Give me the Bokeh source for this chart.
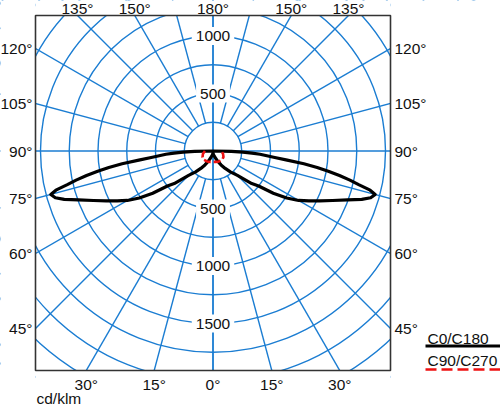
import numpy as np
from bokeh.plotting import figure
from bokeh.models import Range1d
from bokeh.core.properties import value
from bokeh.embed import file_html
from bokeh.resources import INLINE

# ---------------- data (cd/klm) ----------------
gamma = [0, 10, 20, 25, 30, 35, 40, 45, 50, 52.5, 55, 57.5, 60, 62.5, 65, 67.5,
         70, 72, 73.5, 75, 76, 77, 78, 79, 80, 81, 82, 83, 84, 85, 86, 87, 88, 89, 90]
c0_c180 = [20, 35, 70, 100, 140, 185, 240, 300, 440, 500, 640, 760, 860, 940, 1025, 1125,
           1245, 1360, 1430, 1460, 1408, 1300, 1217, 1120, 1018, 917, 798, 650, 540, 470,
           410, 340, 260, 160, 0]

gamma_r = [0, 15, 30, 45, 60, 75, 90]
c90_c270 = [95, 98, 105, 110, 105, 90, 70]

radii = [250, 500, 750, 1000, 1250, 1500, 1750, 2000, 2250, 2500]
radius_labels = [500, 1000, 1500]
spoke_angles = [0, 15, 30, 45, 60, 75, 90, 105, 120, 135, 150, 165, 180]

top_left_ticks = [135, 150, 180]
top_right_ticks = [150, 135]
side_ticks = [120, 105, 90, 75, 60, 45]
bottom_left_ticks = [30, 15, 0]
bottom_right_ticks = [15, 30]

series_names = ["C0/C180", "C90/C270"]
unit_label = "cd/klm"

# ---------------- layout (canvas px) ----------------
W, H = 500, 406
S = 0.115                      # px per cd/klm
CX, CY = 212.5, 150.5          # pole position
BOX_L, BOX_R, BOX_T, BOX_B = 35, 390, 15, 370


def dx(px):
    return (px - CX) / S


def dy(py):
    return (CY - py) / S


XMIN, XMAX = dx(0), dx(W)
YMIN, YMAX = dy(H), dy(0)
BL, BR, BT, BB = dx(BOX_L), dx(BOX_R), dy(BOX_T), dy(BOX_B)

GRID = "#1b7dd2"
FONT = "Liberation Sans"
TXT = "#111111"
FS = "15.5px"

p = figure(width=W, height=H, output_backend="svg", toolbar_location=None,
           title=None, x_range=Range1d(XMIN, XMAX), y_range=Range1d(YMIN, YMAX),
           min_border=0)
p.xaxis.visible = False
p.yaxis.visible = False
p.xgrid.visible = False
p.ygrid.visible = False
p.outline_line_color = None
p.background_fill_color = "white"
p.border_fill_color = "white"

# circles
p.circle(x=[0] * len(radii), y=[0] * len(radii), radius=radii,
         fill_color=None, line_color=GRID, line_width=1.4)

# spokes
xs, ys = [], []
rmax = 3200
for a in spoke_angles:
    r0 = 0 if a in (0, 90, 180) else radii[0]
    for side in (-1, 1):
        t = np.radians(a)
        xs.append([side * r0 * np.sin(t), side * rmax * np.sin(t)])
        ys.append([-r0 * np.cos(t), -rmax * np.cos(t)])
p.multi_line(xs=xs, ys=ys, line_color=GRID, line_width=1.4)

# radius labels with white background
lx, ly, lt = [], [], []
for r in radius_labels:
    for sgn in (1, -1):
        if BB < sgn * r < BT:
            lx.append(0)
            ly.append(sgn * r)
            lt.append(str(r))
p.text(x=lx, y=ly, text=lt, text_align="center", text_baseline="middle",
       text_font=value(FONT), text_font_size=FS, text_color=TXT,
       background_fill_color="white", padding=4)

# curves
g = np.radians(np.array(gamma))
I = np.array(c0_c180, dtype=float)
cx = np.concatenate([-(I * np.sin(g))[::-1], (I * np.sin(g))])
cy = np.concatenate([-(I * np.cos(g))[::-1], -(I * np.cos(g))])
p.line(cx, cy, line_color="black", line_width=3.2, line_join="round")

gr = np.radians(np.array(gamma_r))
Ir = np.array(c90_c270, dtype=float)
rx = np.concatenate([-(Ir * np.sin(gr))[::-1], (Ir * np.sin(gr))])
ry = np.concatenate([-(Ir * np.cos(gr))[::-1], -(Ir * np.cos(gr))])
p.line(rx, ry, line_color="#ee1111", line_width=2.6, line_dash="7 3")

# white masks outside the diagram box, then the box outline
p.quad(left=[XMIN, BR, BL, BL], right=[BL, XMAX, BR, BR],
       bottom=[YMIN, YMIN, BT, YMIN], top=[YMAX, YMAX, YMAX, BB],
       fill_color="white", line_color=None)
p.quad(left=[BL], right=[BR], bottom=[BB], top=[BT],
       fill_color=None, line_color="#333333", line_width=1.6)

# angle labels around the box
tx, ty, tt, ta = [], [], [], []


def lab(x, y, text, align):
    tx.append(x)
    ty.append(y)
    tt.append(text)
    ta.append(align)


for a in top_left_ticks:
    lab(BT * np.tan(np.radians(a)), BT + 7.5 / S, f"{a}°", "center")
for a in top_right_ticks:
    lab(-BT * np.tan(np.radians(a)), BT + 7.5 / S, f"{a}°", "center")
for a in side_ticks:
    t = np.radians(a)
    lab(BL - 3 / S, BL * np.cos(t) / np.sin(t), f"{a}°", "right")
    lab(BR + 4 / S, -BR * np.cos(t) / np.sin(t), f"{a}°", "left")
for a in bottom_left_ticks:
    lab(BB * np.tan(np.radians(a)), BB - 14 / S, f"{a}°", "center")
for a in bottom_right_ticks:
    lab(-BB * np.tan(np.radians(a)), BB - 14 / S, f"{a}°", "center")
lab(BL + 1 / S, BB - 28 / S, unit_label, "left")

# legend texts
lab(BR + 37 / S, BB + 32.5 / S, series_names[0], "left")
lab(BR + 37 / S, BB + 10 / S, series_names[1], "left")

p.text(x=tx, y=ty, text=tt, text_align=ta, text_baseline="middle",
       text_font=value(FONT), text_font_size=FS, text_color=TXT)

# legend lines
p.line([BR + 35 / S, XMAX], [BB + 24.5 / S] * 2, line_color="black", line_width=3.2)
p.line([BR + 35 / S, XMAX], [BB + 1 / S] * 2, line_color="#ee1111", line_width=2.6,
       line_dash="11 5")

open("out.html", "w").write(file_html(p, INLINE))
